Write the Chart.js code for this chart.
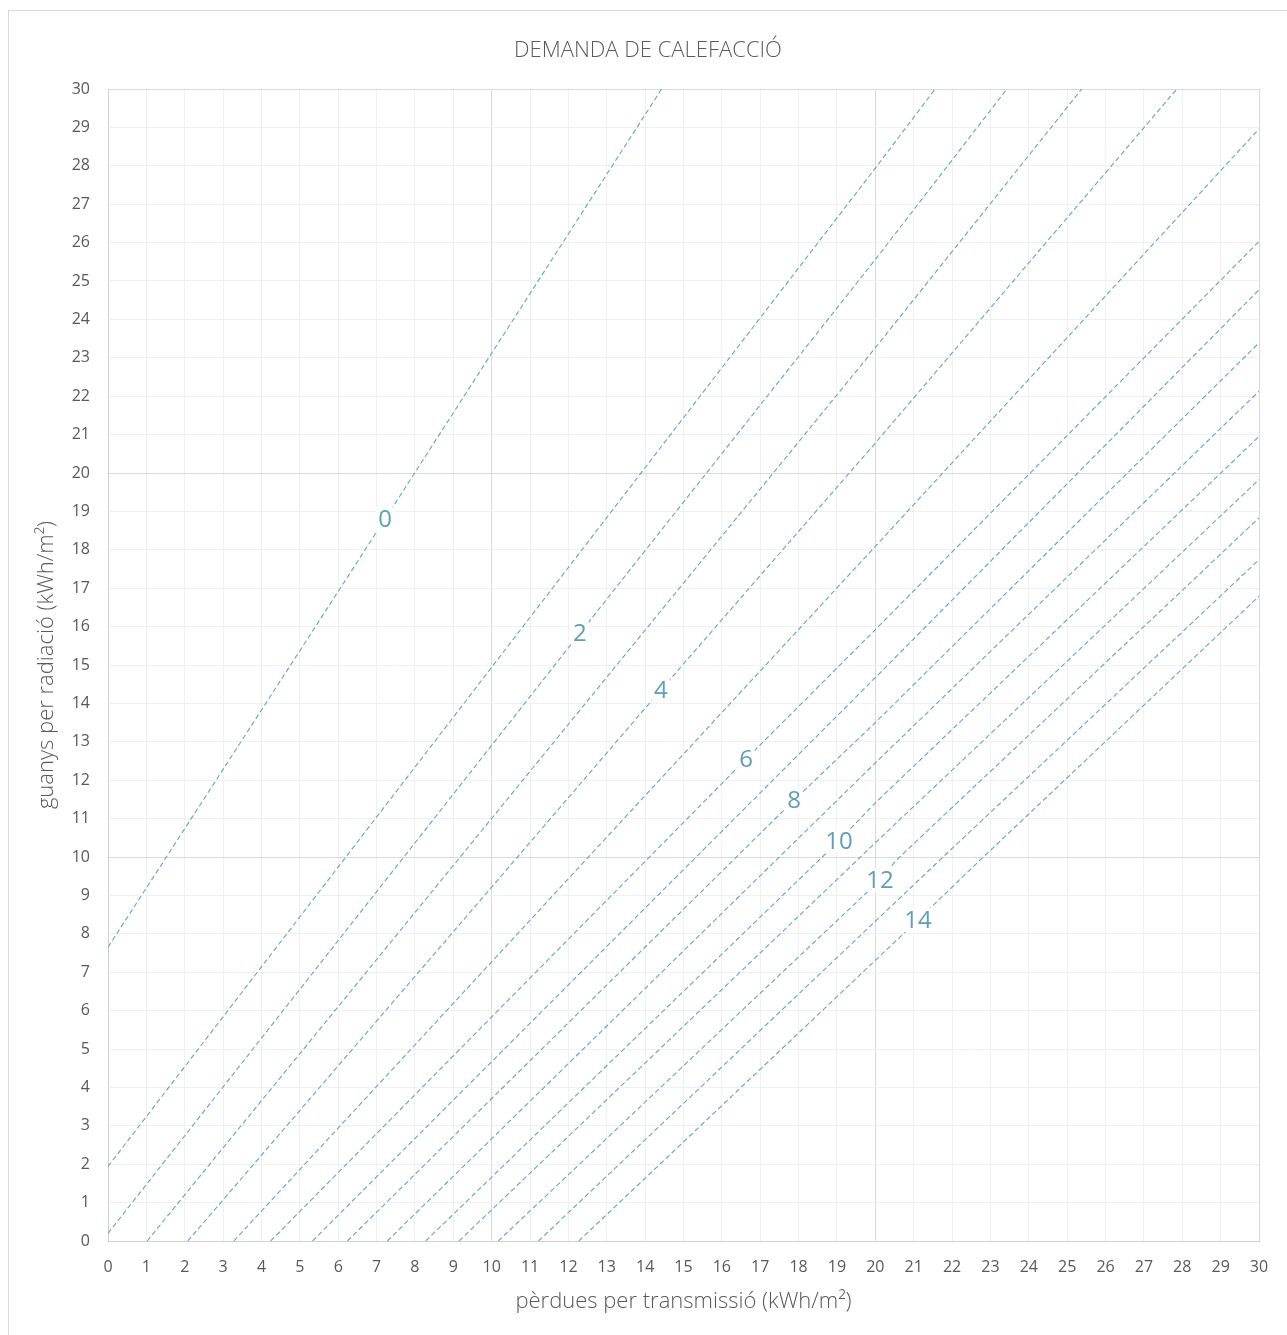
<!DOCTYPE html>
<html>
<head>
<meta charset="utf-8">
<title>Demanda de calefacció</title>
<script src="https://cdn.jsdelivr.net/npm/chart.js@4.4.1/dist/chart.umd.min.js"></script>
<style>
  html, body { margin: 0; padding: 0; background: #ffffff; }
  #wrap { position: relative; width: 1287px; height: 1335px; }
</style>
</head>
<body>
<div id="wrap"><canvas id="chart" width="1287" height="1335"></canvas></div>
<script>
// Heating demand isolines (kWh/m²): transmission losses on x, solar gains on y.
const demandLevels = [0, 1, 2, 3, 4, 5, 6, 7, 8, 9, 10, 11, 12, 13, 14];

// Where each isoline enters the plot (lower-left end)
const startLosses = [0, 0, 0, 1.02, 2.08, 3.28, 4.24, 5.33, 6.24, 7.28, 8.28, 9.15, 10.17, 11.22, 12.27];
const startGains  = [7.65, 1.94, 0.2, 0, 0, 0, 0, 0, 0, 0, 0, 0, 0, 0, 0];

// An intermediate reading along each isoline
const midLosses = [10, 20, 20, 20, 20, 20, 20, 20, 20, 20, 20, 20, 20.55, 21.68, 22.73];
const midGains  = [23.12, 27.94, 25.56, 23.26, 20.78, 18.09, 15.92, 14.67, 13.5, 12.45, 11.41, 10.37, 9.92, 9.92, 9.92];

// Where each isoline leaves the plot (upper-right end)
const endLosses = [14.43, 21.56, 23.43, 25.38, 27.86, 30, 30, 30, 30, 30, 30, 30, 30, 30, 30];
const endGains  = [30, 30, 30, 30, 30, 28.96, 26.03, 24.77, 23.39, 22.13, 20.95, 19.83, 18.83, 17.74, 16.79];

// Inline labels on the even isolines
const labelDemand = [0, 2, 4, 6, 8, 10, 12, 14];
const labelLosses = [7.22, 12.3, 14.41, 16.63, 17.88, 19.05, 20.12, 21.11];
const labelGains  = [18.8, 15.83, 14.35, 12.55, 11.48, 10.42, 9.4, 8.36];

const axisTicks = [0, 1, 2, 3, 4, 5, 6, 7, 8, 9, 10, 11, 12, 13, 14, 15, 16, 17, 18, 19, 20,
                   21, 22, 23, 24, 25, 26, 27, 28, 29, 30];

const chartTitle = 'DEMANDA DE CALEFACCIÓ';
const xTitle = 'pèrdues per transmissió (kWh/m²)';
const yTitle = 'guanys per radiació (kWh/m²)';

const LINE_COLOR = '#5FA7BF';
const LABEL_COLOR = '#5C9FB6';
const TEXT_COLOR = '#595959';
const FONT = "'Open Sans', 'Noto Sans', sans-serif";

// Build one dataset per isoline, passing through its labelled point when it has one
const datasets = demandLevels.map((d, i) => {
  const pts = [
    { x: startLosses[i], y: startGains[i] },
    { x: midLosses[i], y: midGains[i] },
    { x: endLosses[i], y: endGains[i] }
  ];
  const li = labelDemand.indexOf(d);
  if (li >= 0) pts.push({ x: labelLosses[li], y: labelGains[li] });
  pts.sort((a, b) => a.x - b.x);
  return {
    label: String(d),
    data: pts,
    showLine: true,
    borderColor: LINE_COLOR,
    borderWidth: 1.1,
    borderDash: [5, 3],
    pointRadius: 0,
    pointHoverRadius: 0,
    tension: 0,
    fill: false
  };
});

// Outer frame and chart heading
const framePlugin = {
  id: 'frame',
  beforeDraw(chart) {
    const c = chart.ctx;
    c.save();
    c.fillStyle = '#ffffff';
    c.fillRect(0, 0, chart.width, chart.height);
    c.strokeStyle = '#D9D9D9';
    c.lineWidth = 1;
    c.strokeRect(8.5, 10.5, chart.width + 10, chart.height + 10);
    c.fillStyle = TEXT_COLOR;
    c.font = "300 22px " + FONT;
    c.textAlign = 'center';
    c.textBaseline = 'middle';
    c.fillText(chartTitle, 648, 51);
    c.restore();
  }
};

// Demand values written on top of their isolines
const isolineLabels = {
  id: 'isolineLabels',
  afterDatasetsDraw(chart) {
    const c = chart.ctx;
    const xs = chart.scales.x, ys = chart.scales.y;
    c.save();
    c.font = "24px " + FONT;
    c.textAlign = 'center';
    c.textBaseline = 'middle';
    labelDemand.forEach((d, i) => {
      const px = xs.getPixelForValue(labelLosses[i]);
      const py = ys.getPixelForValue(labelGains[i]);
      const txt = String(d);
      const w = c.measureText(txt).width + 4;
      c.fillStyle = '#ffffff';
      c.fillRect(px - w / 2, py - 12, w, 24);
      c.fillStyle = LABEL_COLOR;
      c.fillText(txt, px, py + 1);
    });
    c.restore();
  }
};

const gridColor = ctx => (ctx.tick && ctx.tick.value % 10 === 0 ? '#D9D9D9' : '#F0F0F0');

new Chart(document.getElementById('chart'), {
  type: 'scatter',
  data: { datasets },
  plugins: [framePlugin, isolineLabels],
  options: {
    responsive: false,
    animation: false,
    layout: { padding: { top: 89, right: 28, left: 0, bottom: 0 } },
    plugins: {
      legend: { display: false },
      tooltip: { enabled: false },
      title: { display: false }
    },
    scales: {
      x: {
        type: 'linear',
        min: 0,
        max: 30,
        afterBuildTicks: s => { s.ticks = axisTicks.map(v => ({ value: v })); },
        afterFit: s => { s.height = 94; },
        grid: { color: gridColor, drawTicks: false, lineWidth: 1 },
        border: { color: '#D0D0D0', width: 1 },
        ticks: { color: TEXT_COLOR, font: { family: FONT, size: 16 }, padding: 17, maxRotation: 0, autoSkip: false },
        title: { display: true, text: xTitle, color: TEXT_COLOR, font: { family: FONT, size: 22, weight: 300 }, padding: { top: 0, bottom: 20 } }
      },
      y: {
        type: 'linear',
        min: 0,
        max: 30,
        afterBuildTicks: s => { s.ticks = axisTicks.map(v => ({ value: v })); },
        afterFit: s => { s.width = 108; },
        grid: { color: gridColor, drawTicks: false, lineWidth: 1 },
        border: { color: '#D0D0D0', width: 1 },
        ticks: { color: TEXT_COLOR, font: { family: FONT, size: 16 }, padding: 18, autoSkip: false },
        title: { display: true, text: yTitle, color: TEXT_COLOR, font: { family: FONT, size: 22, weight: 300 }, padding: { top: 34, bottom: 0 } }
      }
    }
  }
});
</script>
</body>
</html>
